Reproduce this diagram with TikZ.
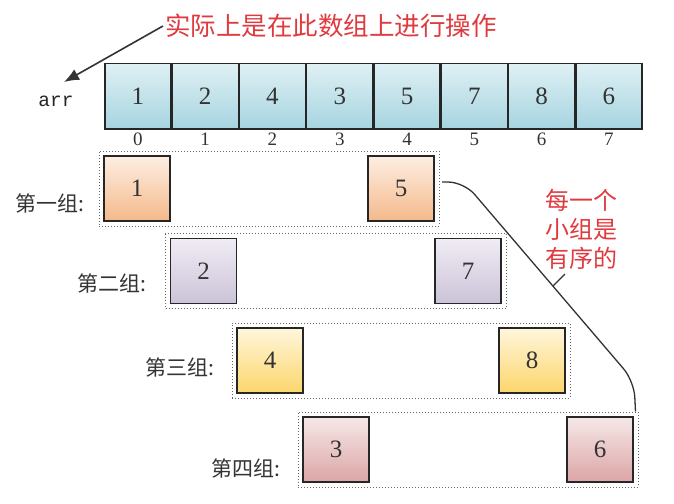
\documentclass[tikz,border=0pt]{standalone}
\usepackage{fontspec}
\setmainfont{Liberation Serif}
\setmonofont{Liberation Mono}
\newfontfamily\cjk{Noto Sans CJK SC}
\usetikzlibrary{matrix,arrows.meta,fit}

\definecolor{bleuH}{HTML}{DFF0F4}
\definecolor{bleuB}{HTML}{A6D4E0}
\definecolor{orangeH}{HTML}{FDEEE2}
\definecolor{orangeB}{HTML}{F4B98B}
\definecolor{violetH}{HTML}{F0ECF4}
\definecolor{violetB}{HTML}{CBC3D8}
\definecolor{jauneH}{HTML}{FFF6DC}
\definecolor{jauneB}{HTML}{FCD66B}
\definecolor{roseH}{HTML}{F6E8E8}
\definecolor{roseB}{HTML}{DCA5A5}
\definecolor{rougeT}{HTML}{DF3A3F}

\tikzset{
  case/.style={draw=black!85, line width=1.3pt, minimum width=66pt,
               minimum height=65pt, inner sep=0pt, outer sep=0pt,
               text=black!80, font=\fontsize{25}{25}\selectfont},
  bleu/.style={case, top color=bleuH, bottom color=bleuB},
  orange/.style={case, top color=orangeH, bottom color=orangeB},
  violet/.style={case, top color=violetH, bottom color=violetB},
  jaune/.style={case, top color=jauneH, bottom color=jauneB},
  rose/.style={case, top color=roseH, bottom color=roseB},
  indice/.style={inner sep=0pt, text=black!80, font=\fontsize{19}{19}\selectfont},
  groupe/.style={draw=black!60, dotted, line width=1pt, inner sep=5pt},
  etiq/.style={anchor=east, inner sep=0pt, text=black!80,
               font=\cjk\fontsize{21}{21}\selectfont},
  rouge/.style={text=rougeT, font=\cjk\fontsize{24}{29}\selectfont},
  trait/.style={draw=black!80, line width=1.3pt},
}

\begin{document}
\begin{tikzpicture}[x=1pt, y=-1pt]
\useasboundingbox (0,0) rectangle (674,503);
% le tableau
\matrix (tab) [matrix of nodes,%
               inner sep = 0pt,%
               column sep = 0pt,%
               row sep = 3pt,%
               nodes = {anchor=center},%
               row 1/.style = {nodes={bleu}},%
               row 2/.style = {nodes={indice}},%
               anchor = north west] at (104,63)
{%
  1 & 2 & 4 & 3 & 5 & 7 & 8 & 6 \\
  0 & 1 & 2 & 3 & 4 & 5 & 6 & 7 \\
};
\node[font=\ttfamily\fontsize{19.5}{19.5}\selectfont, text=black!85] (arr) at (56,101) {arr};
\node[rouge, font=\cjk\fontsize{25.5}{25.5}\selectfont, anchor=west, inner sep=2pt] (note) at (163,26) {实际上是在此数组上进行操作};
\coordinate (pointe) at (64,82);
\draw[trait, line width=1.6pt, -{Latex[length=15pt,width=12pt]}] (note.west) -- (pointe);
% les groupes
\node[orange] (g1a) at (137,188.5) {1};
\node[orange] (g1b) at (401,188.5) {5};
\node[groupe, fit=(g1a)(g1b)] (b1) {};
\node[etiq] (l1) at (85,203) {第一组:};
\node[violet] (g2a) at (203.5,271) {2};
\node[violet] (g2b) at (468,271) {7};
\node[groupe, fit=(g2a)(g2b)] (b2) {};
\node[etiq] (l2) at (147,283) {第二组:};
\node[jaune] (g3a) at (270,360.5) {4};
\node[jaune] (g3b) at (532,360.5) {8};
\node[groupe, fit=(g3a)(g3b)] (b3) {};
\node[etiq] (l3) at (215,367) {第三组:};
\node[rose] (g4a) at (336,449.5) {3};
\node[rose] (g4b) at (600,449.5) {6};
\node[groupe, fit=(g4a)(g4b)] (b4) {};
\node[etiq] (l4) at (281,468) {第四组:};
% la remarque
\node[rouge, align=center] (remarque) at (581.5,229) {每一个\\小组是\\有序的};
\coordinate (depart) at (442,182);
\coordinate (c1) at (464,182);
\coordinate (c2) at (634,381);
\coordinate (arrivee) at ([xshift=-3pt]b4.north east);
\draw[trait, rounded corners=16pt] (depart) -- (c1) -- (c2) -- (arrivee);
\path (c1) -- (c2) coordinate[pos=0.523] (tic);
\draw[trait] (tic) -- ++(12,-12);
%\draw[trait] (tic) -- (remarque.south west);
\end{tikzpicture}
\end{document}
